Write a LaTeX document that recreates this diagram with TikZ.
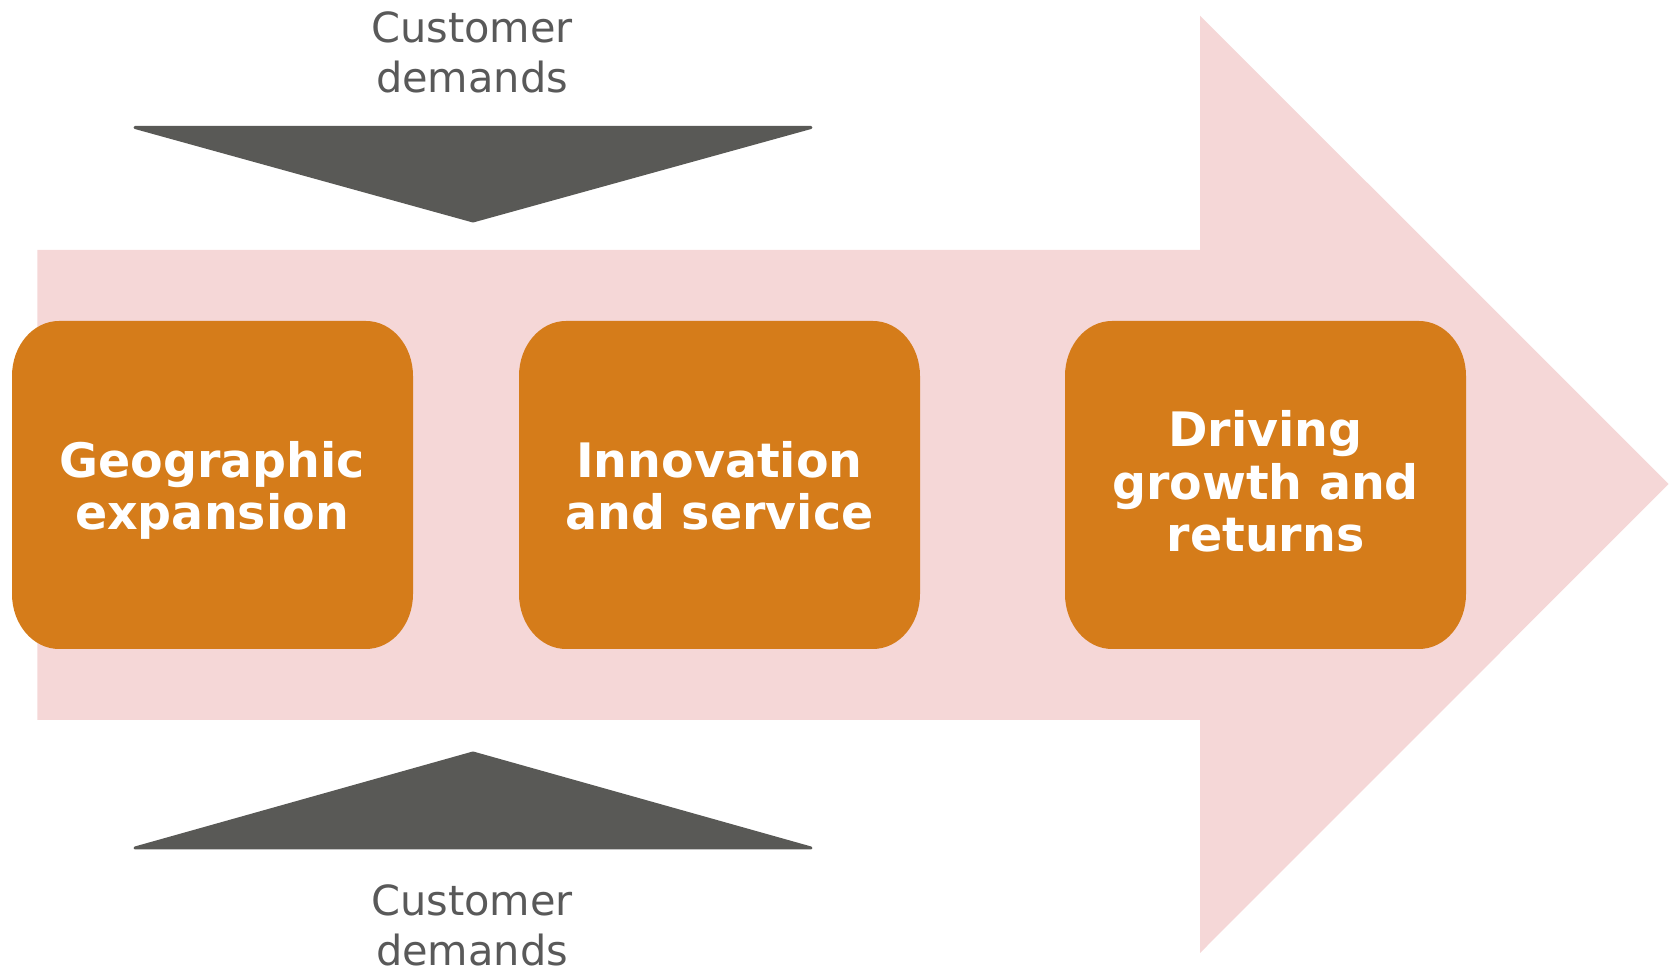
\documentclass[tikz,border=0pt]{standalone}
\usepackage{fontspec}
\setmainfont{DejaVu Sans}
\definecolor{pinkbg}{RGB}{245,215,215}
\definecolor{boxor}{RGB}{213,124,26}
\definecolor{trigray}{RGB}{89,89,86}
\definecolor{txtgray}{RGB}{89,89,89}
\pgfdeclarelayer{bg}
\pgfsetlayers{bg,main}
\tikzset{
  boxtext/.style={align=center, text=white, font=\fontsize{47.5}{52.5}\selectfont\bfseries, inner sep=0pt, anchor=base},
  demandtext/.style={align=center, text=txtgray, font=\fontsize{41.5}{50.5}\selectfont, inner sep=0pt, anchor=base},
  tri/.style={fill=trigray, draw=trigray, line width=3pt, line join=round},
  bigarrow/.style={fill=pinkbg},
  boxfill/.style={fill=boxor},
}
% #1 = left x, #2 = bottom y, #3 = right x, #4 = top y
\newcommand{\ellbox}[4]{%
  \fill[boxfill] (#1+47,#4) -- (#3-47,#4)
    arc[start angle=90,end angle=0,x radius=47,y radius=55]
    -- (#3,#2+55) arc[start angle=0,end angle=-90,x radius=47,y radius=55]
    -- (#1+47,#2) arc[start angle=270,end angle=180,x radius=47,y radius=55]
    -- (#1,#4-55) arc[start angle=180,end angle=90,x radius=47,y radius=55]
    -- cycle;}
\begin{document}
\begin{tikzpicture}[x=1pt,y=1pt]
\useasboundingbox (0,0) rectangle (1674,976);
\begin{pgfonlayer}{bg}
  \fill[bigarrow] (37.4,256) -- (37.4,726) -- (1200,726) -- (1200,960.4)
    -- (1668.6,492) -- (1200,23) -- (1200,256) -- cycle;
  \ellbox{12}{327}{413}{655}
  \ellbox{519}{327}{920}{655}
  \ellbox{1065}{327}{1466}{655}
\end{pgfonlayer}
% demand triangles
\fill[tri] (135,848.5) -- (811,848.5) -- (473,755) -- cycle;
\fill[tri] (135,128) -- (811,128) -- (473,223) -- cycle;
% texts (base anchor = baseline of the last line)
\node[demandtext] (topdem) at (472,883.3) {Customer\\demands};
\node[demandtext] (botdem) at (472,10.3) {Customer\\demands};
\node[boxtext] (b1) at (212,446) {Geographic\\expansion};
\node[boxtext] (b2) at (719.5,446) {Innovation\\and service};
\node[boxtext] (b3) at (1265.5,424) {Driving\\growth and\\returns};
\end{tikzpicture}
\end{document}
